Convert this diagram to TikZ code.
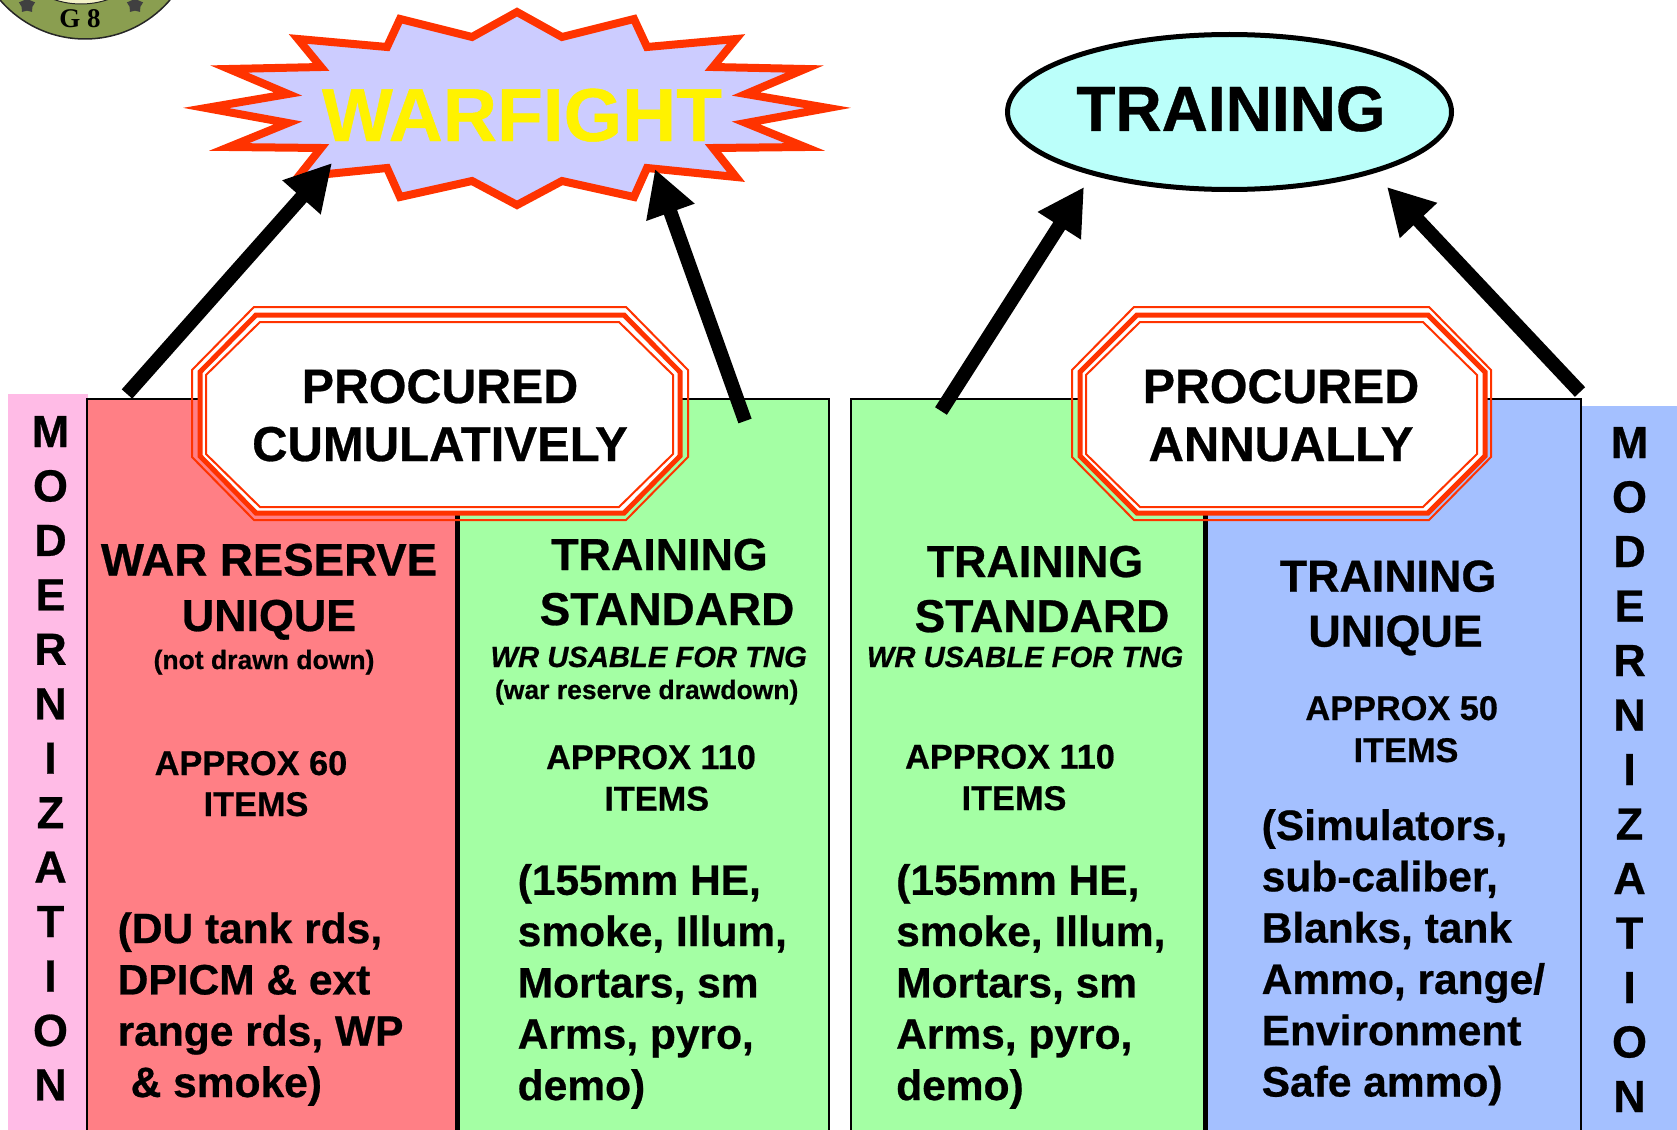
\documentclass[tikz,border=0pt]{standalone}
\usepackage{fontspec}
\setmainfont{Liberation Sans}[BoldFeatures={FakeBold=0.6},BoldItalicFeatures={FakeBold=0.6}]
\newfontfamily\sealfont{Liberation Serif}
\usetikzlibrary{arrows.meta,shapes.geometric}
\definecolor{warred}{HTML}{FF7F85}
\definecolor{tngreen}{HTML}{A4FFA4}
\definecolor{tnblue}{HTML}{A4C0FF}
\definecolor{modpink}{HTML}{FFBBE6}
\definecolor{burstblue}{HTML}{CCCCFF}
\definecolor{burstred}{HTML}{FF3300}
\definecolor{tncyan}{HTML}{BBFFFA}
\definecolor{sealgreen}{HTML}{8A9E50}
\definecolor{sealcream}{HTML}{F4F2C8}
\tikzset{
  colbox/.style={draw=black,line width=2.5pt,inner sep=0pt,outer sep=0pt,anchor=north west,minimum height=740pt},
  modstrip/.style={inner sep=0pt,outer sep=0pt,anchor=north west,minimum height=740pt},
  txt/.style={inner sep=0pt,outer sep=0pt,anchor=base,font=\bfseries\fontsize{#1}{#1}\selectfont},
  bigtxt/.style={txt=44.8},
  apptxt/.style={txt=34.3},
  smalltxt/.style={txt=26.5},
  wrtxt/.style={inner sep=0pt,anchor=base,font=\bfseries\itshape\fontsize{29.2}{30}\selectfont},
  listtxt/.style={inner sep=0pt,anchor=base west,align=left,font=\bfseries\fontsize{42.5}{51.3}\selectfont},
  bigarrow/.style={line width=14pt,-{Triangle[length=46pt,width=48pt]}},
  ring/.style={draw=burstred,line width=#1}
}
\newcommand{\octa}[7][]{%
  \draw[#1] (#2+#6,#4) -- (#3-#6,#4) -- (#3,#4+#7) -- (#3,#5-#7) -- (#3-#6,#5) -- (#2+#6,#5) -- (#2,#5-#7) -- (#2,#4+#7) -- cycle;}
\begin{document}
\begin{tikzpicture}[x=1pt,y=-1pt]
  \clip (0,0) rectangle (1677,1129);
  % seal
  \draw[fill=sealgreen,draw=black!85,line width=1.5pt] (85,-73) circle (112);
  \draw[fill=sealcream,draw=black!85,line width=1pt] (81,-80) circle (84);
  \node[star,star points=5,fill=black!75,inner sep=0pt,minimum size=17pt] (sealstarl) at (27,5) {};
  \node[star,star points=5,fill=black!75,inner sep=0pt,minimum size=17pt] (sealstarr) at (135,5) {};
  \node[inner sep=0pt,anchor=base,font=\sealfont\bfseries\fontsize{27}{27}\selectfont] (sealtxt) at (80,28) {G 8};
  % columns
  \node[modstrip,fill=modpink,minimum width=80pt] (modl) at (8,394) {};
  \node[modstrip,fill=tnblue,minimum width=100pt] (modr) at (1581,406) {};
  \node[colbox,fill=warred,minimum width=369.3pt] (warcol) at (87,399) {};
  \node[colbox,fill=tngreen,minimum width=370.3pt] (stdcola) at (458.7,399) {};
  \node[colbox,fill=tngreen,minimum width=353.5pt] (stdcolb) at (851,399) {};
  \node[colbox,fill=tnblue,minimum width=374pt] (tncol) at (1207,399) {};
  % goals
  \draw[draw=burstred,fill=burstblue,line width=8pt,miter limit=30]
    (517,12) -- (562,37) -- (634,19) -- (647,47) -- (736,39) -- (713,67) -- (805,69) -- (746,94)
    -- (828,108) -- (746,123) -- (805,147) -- (713,148) -- (736,177) -- (647,168) -- (634,197)
    -- (562,181) -- (517,205) -- (472,181) -- (400,197) -- (387,168) -- (298,177) -- (321,148)
    -- (229,147) -- (288,123) -- (206,108) -- (288,94) -- (229,69) -- (321,67) -- (298,39)
    -- (387,47) -- (400,19) -- (472,37) -- cycle;
  \node[inner sep=0pt,anchor=base,text=yellow,font=\bfseries\fontsize{75}{75}\selectfont] (warfight) at (522,141) {WARFIGHT};
  \node[draw=black,fill=tncyan,line width=5pt,ellipse,inner sep=0pt,minimum width=444pt,minimum height=155pt] (trainoval) at (1229.5,112) {};
  \node[txt=64] (training) at (1231,131) {TRAINING};
  % arrows
  \coordinate (warA) at (127,394);
  \coordinate (warB) at (332,163);
  \coordinate (stdA) at (745,421);
  \coordinate (stdB) at (655,169);
  \coordinate (tnA) at (941,411);
  \coordinate (tnB) at (1084,187);
  \coordinate (uniA) at (1580,392);
  \coordinate (uniB) at (1387,187);
  \draw[bigarrow] (warA) -- (warB);
  \draw[bigarrow] (stdA) -- (stdB);
  \draw[bigarrow] (tnA) -- (tnB);
  \draw[bigarrow] (uniA) -- (uniB);
  % octagons
  \octa[ring=2pt]{192}{688}{307}{520}{62}{63}
  \octa[ring=5pt,fill=white]{200}{680}{315}{513}{56}{57}
  \octa[ring=2pt]{206}{673}{322}{507}{54}{53}
  \octa[ring=2pt]{1072}{1491}{307}{520}{62}{63}
  \octa[ring=5pt,fill=white]{1080}{1485}{315}{513}{57}{57}
  \octa[ring=2pt]{1086}{1477}{322}{507}{54}{53}
  \node[txt=48.3] (proca) at (440,403) {PROCURED};
  \node[txt=49] (cumul) at (440,461) {CUMULATIVELY};
  \node[txt=48.3] (procb) at (1281,403) {PROCURED};
  \node[txt=49] (annual) at (1281,461) {ANNUALLY};
  % side letters
  \foreach \ch [count=\i from 0] in {M,O,D,E,R,N,I,Z,A,T,I,O,N} {
    \node[txt=45] (lm\i) at (50.5,447+54.45*\i) {\ch};
    \node[txt=45] (rm\i) at (1629.5,458+54.5*\i) {\ch};
  }
  % war reserve unique
  \node[txt=45.6] (warhead) at (269,575.5) {WAR RESERVE};
  \node[bigtxt] (warheadb) at (269,631) {UNIQUE};
  \node[smalltxt] (warnote) at (264,669) {(not drawn down)};
  \node[apptxt] (warapp) at (251,775) {APPROX 60};
  \node[apptxt] (waritems) at (256,816) {ITEMS};
  \node[listtxt] (warlist) at (117.5,1097) {(DU tank rds,\\DPICM \& ext\\range rds, WP\\\hspace*{13pt}\& smoke)};
  % training standard, left
  \node[bigtxt] (stdhead) at (659.5,570) {TRAINING};
  \node[txt=46] (stdheadb) at (667,625) {STANDARD};
  \node[wrtxt] (stdwr) at (648.7,667) {WR USABLE FOR TNG};
  \node[smalltxt] (stdnote) at (646.7,699) {(war reserve drawdown)};
  \node[apptxt] (stdapp) at (651,769) {APPROX 110};
  \node[apptxt] (stditems) at (656.7,810.5) {ITEMS};
  \node[listtxt] (stdlist) at (517.5,1100) {(155mm HE,\\smoke, Illum,\\Mortars, sm\\Arms, pyro,\\demo)};
  % training standard, right
  \node[bigtxt] (sthead) at (1035,577) {TRAINING};
  \node[txt=46] (stheadb) at (1042,632) {STANDARD};
  \node[wrtxt] (stwr) at (1025,667) {WR USABLE FOR TNG};
  \node[apptxt] (stapp) at (1010,768.5) {APPROX 110};
  \node[apptxt] (stitems) at (1014,810) {ITEMS};
  \node[listtxt] (stlist) at (896,1100) {(155mm HE,\\smoke, Illum,\\Mortars, sm\\Arms, pyro,\\demo)};
  % training unique
  \node[bigtxt] (tnhead) at (1388,591.6) {TRAINING};
  \node[bigtxt] (tnheadb) at (1395.5,646.6) {UNIQUE};
  \node[apptxt] (tnapp) at (1401.7,720) {APPROX 50};
  \node[apptxt] (tnitems) at (1406,762) {ITEMS};
  \node[listtxt] (tnlist) at (1261.5,1096.5) {(Simulators,\\sub-caliber,\\Blanks, tank\\Ammo, range/\\Environment\\Safe ammo)};
\end{tikzpicture}
\end{document}
